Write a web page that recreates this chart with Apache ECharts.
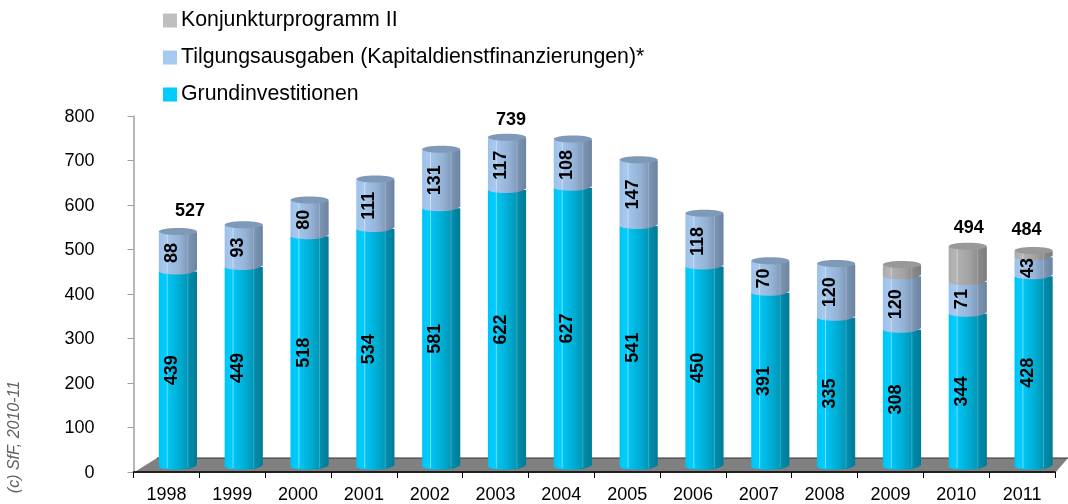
<!DOCTYPE html>
<html>
<head>
<meta charset="utf-8">
<style>html,body{margin:0;padding:0;background:#fff}#c{width:1068px;height:504px}</style>
<script src="https://cdn.jsdelivr.net/npm/echarts@6/dist/echarts.min.js"></script>
</head>
<body>
<div id="c"></div>
<script>
const years = ['1998','1999','2000','2001','2002','2003','2004','2005','2006','2007','2008','2009','2010','2011'];
const grundinvestitionen = [439,449,518,534,581,622,627,541,450,391,335,308,344,428];
const tilgungsausgaben = [88,93,80,111,131,117,108,147,118,70,120,120,71,43];
const konjunkturprogramm = [0,0,0,0,0,0,0,0,0,0,0,25,79,13];
const totalLabels = [527,null,null,null,null,739,null,null,null,null,null,null,494,484];
const yTicks = [0,100,200,300,400,500,600,700,800];

const FONT = '"Liberation Sans", Arial, sans-serif';
const DEPTH_X = 11.5, DEPTH_Y = -6, ARC = 3, CAP = 3.5;
const labelNudge = {0:[12,-20], 5:[4,-17], 12:[1,-18], 13:[-7,-21]};

function grad(stops){
  return {type:'linear',x:0,y:0,x2:1,y2:0,colorStops:stops.map(s=>({offset:s[0],color:s[1]}))};
}
const styles = {
  grund:{fill:grad([[0,'#00c4f2'],[0.15,'#00ccff'],[0.55,'#00abd0'],[0.76,'#0095b6'],[0.77,'#008eac'],[1,'#007a96']]),cap:'#00a0c4'},
  tilg:{fill:grad([[0,'#9dc0e8'],[0.15,'#a6c8ee'],[0.55,'#94b2d6'],[0.76,'#8099b8'],[0.77,'#7c95b4'],[1,'#6c84a0']]),cap:'#7f99b8'},
  konj:{fill:grad([[0,'#aaaaaa'],[0.15,'#b4b4b4'],[0.55,'#a2a2a2'],[0.76,'#8e8e8e'],[0.77,'#8a8a8a'],[1,'#7c7c7c']]),cap:'#999999'}
};

function makeSeries(name, key, color, values, bases, showLabel, isTop){
  return {
    name, type:'custom', coordinateSystem:'cartesian2d', itemStyle:{color},
    encode:{x:0,y:2},
    data: years.map((y,i)=>[y, bases[i], bases[i]+values[i], values[i], i]),
    renderItem(params, api){
      const v = api.value(3);
      if(!v) return null;
      const i = api.value(4);
      const band = api.size([1,0])[0];
      const w = band*0.58;
      const p0 = api.coord([i, api.value(1)]);
      const p1 = api.coord([i, api.value(2)]);
      const cx = p0[0]+DEPTH_X, x = cx-w/2;
      const yb = p0[1]+DEPTH_Y, yt = p1[1]+DEPTH_Y;
      const c = [];
      c.push({type:'path',shape:{
        pathData:`M${x} ${yt}L${x} ${yb}Q${x+w*0.05} ${yb+ARC} ${cx} ${yb+ARC}Q${x+w*0.85} ${yb+ARC} ${x+w} ${yb-ARC*0.5}L${x+w} ${yt}Z`,
        x, y:yt, width:w, height:yb-yt+ARC+ARC*0.5
      },style:{fill:styles[key].fill}});
      [[0.22,0.45],[0.76,0.22]].forEach(s=>c.push({type:'line',
        shape:{x1:x+w*s[0],y1:yt+1,x2:x+w*s[0],y2:yb+ARC-1},
        style:{stroke:'rgba(255,255,255,'+s[1]+')',lineWidth:1}}));
      if(isTop(i)){
        c.push({type:'ellipse',shape:{cx,cy:yt,rx:w/2,ry:CAP},style:{fill:styles[key].cap}});
      }
      if(showLabel){
        c.push({type:'text',x:cx-6,y:(yb+yt)/2+2,rotation:Math.PI/2,
          style:{text:String(v),font:'bold 18px '+FONT,fill:'#000',align:'center',verticalAlign:'middle'},z2:5});
      }
      if(totalLabels[i]!=null && isTop(i)){
        const t = api.coord([i,totalLabels[i]]);
        const n = labelNudge[i];
        c.push({type:'text',x:cx+n[0],y:t[1]+DEPTH_Y+n[1],
          style:{text:String(totalLabels[i]),font:'bold 18px '+FONT,fill:'#000',align:'center',verticalAlign:'middle'},z2:5});
      }
      return {type:'group',children:c};
    }
  };
}

const base2 = grundinvestitionen;
const base3 = grundinvestitionen.map((g,i)=>g+tilgungsausgaben[i]);
const zeros = years.map(()=>0);

const option = {
  animation:false,
  backgroundColor:'#fff',
  textStyle:{fontFamily:FONT},
  grid:{left:133.5,right:13,top:116,bottom:31,containLabel:false},
  legend:{
    orient:'vertical',left:158,top:5,itemWidth:14,itemHeight:14,itemGap:16,icon:'rect',
    selectedMode:false,
    textStyle:{fontFamily:FONT,fontSize:21.3,color:'#000',padding:[0,0,0,-1]},
    data:['Konjunkturprogramm II','Tilgungsausgaben (Kapitaldienstfinanzierungen)*','Grundinvestitionen']
  },
  xAxis:{
    type:'category',data:years,boundaryGap:true,
    axisLine:{lineStyle:{color:'#000',width:1.5}},
    axisTick:{show:true,alignWithLabel:false,length:6,inside:false,lineStyle:{color:'#000'}},
    axisLabel:{color:'#000',fontSize:18,margin:14,fontFamily:FONT,interval:0},
    splitLine:{show:false}
  },
  yAxis:{
    type:'value',min:0,max:800,interval:100,
    axisLine:{show:true,lineStyle:{color:'#a0a0a0',width:1.5}},
    axisTick:{show:true,length:6,lineStyle:{color:'#a0a0a0'}},
    axisLabel:{color:'#000',fontSize:18,margin:39,verticalAlign:'top',padding:[-8,0,0,0],fontFamily:FONT,formatter:v=>yTicks.includes(v)?String(v):''},
    splitLine:{show:false}
  },
  graphic:[
    {type:'polygon',z:-1,shape:{points:[[133,473],[157,458],[1068,458],[1055,473]]},style:{fill:'#808080'},silent:true},
    {type:'line',z:-1,shape:{x1:157,y1:458,x2:1068,y2:458},style:{stroke:'#333',lineWidth:1},silent:true},
    {type:'text',x:15,y:437,rotation:Math.PI/2,silent:true,
      style:{text:'(c) SfF, 2010-11',font:'italic 16px '+FONT,fill:'#606060',align:'center',verticalAlign:'middle'}}
  ],
  series:[
    makeSeries('Grundinvestitionen','grund','#00ccff',grundinvestitionen,zeros,true,()=>false),
    makeSeries('Tilgungsausgaben (Kapitaldienstfinanzierungen)*','tilg','#a6caf0',tilgungsausgaben,base2,true,i=>!konjunkturprogramm[i]),
    makeSeries('Konjunkturprogramm II','konj','#bfbfbf',konjunkturprogramm,base3,false,i=>!!konjunkturprogramm[i])
  ]
};
echarts.init(document.getElementById('c'),null,{renderer:'canvas'}).setOption(option);
</script>
</body>
</html>
